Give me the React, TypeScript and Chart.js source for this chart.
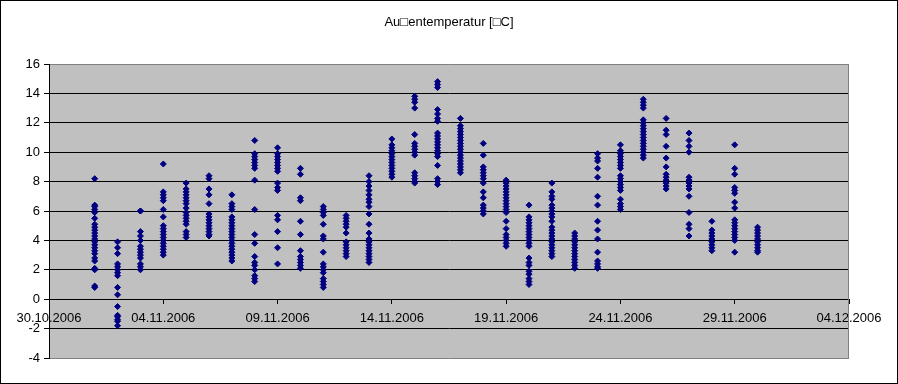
import React, { useEffect, useRef } from 'react';
import { Chart, registerables } from 'chart.js';

Chart.register(...registerables);

const chartTitle = 'Au\u25A1entemperatur [\u25A1C]';
const xTickLabels = ['30.10.2006', '04.11.2006', '09.11.2006', '14.11.2006', '19.11.2006', '24.11.2006', '29.11.2006', '04.12.2006'];
const novemberDays = [1, 2, 3, 4, 5, 6, 7, 8, 9, 10, 11, 12, 13, 14, 15, 16, 17, 18, 19, 20, 21, 22, 23, 24, 25, 26, 27, 28, 29, 30];

const nov01 = [8.2, 6.4, 6.3, 6.1, 5.9, 5.5, 5.1, 4.9, 4.7, 4.5, 4.3, 4.1, 3.9, 3.7, 3.5, 3.3, 3.1, 2.8, 2.6, 2.1, 2.0, 0.9, 0.8];
const nov02 = [3.9, 3.5, 3.1, 2.4, 2.2, 2.0, 1.8, 1.6, 0.8, 0.3, -0.5, -1.1, -1.2, -1.4, -1.5, -1.8];
const nov03 = [6.0, 6.0, 4.6, 4.3, 4.0, 3.6, 3.4, 3.2, 3.0, 2.8, 2.4, 2.2, 2.0];
const nov04 = [9.2, 7.3, 7.1, 6.9, 6.7, 6.1, 5.6, 5.0, 4.8, 4.6, 4.4, 4.2, 4.0, 3.8, 3.6, 3.4, 3.2, 3.0];
const nov05 = [7.9, 7.5, 7.3, 7.1, 6.9, 6.7, 6.5, 6.2, 5.9, 5.7, 5.5, 5.3, 5.1, 4.6, 4.4, 4.2];
const nov06 = [8.4, 8.2, 7.5, 7.1, 6.5, 5.8, 5.6, 5.4, 5.2, 5.0, 4.8, 4.6, 4.4, 4.3];
const nov07 = [7.1, 6.5, 6.3, 6.1, 5.6, 5.4, 5.2, 5.0, 4.8, 4.6, 4.4, 4.2, 4.0, 3.8, 3.6, 3.4, 3.2, 3.0, 2.8, 2.6];
const nov08 = [10.8, 9.9, 9.7, 9.5, 9.3, 9.1, 8.9, 8.1, 6.1, 4.4, 3.8, 2.9, 2.5, 2.3, 2.0, 1.6, 1.4, 1.2];
const nov09 = [10.3, 9.9, 9.7, 9.5, 9.3, 9.1, 8.9, 8.7, 7.9, 7.6, 7.4, 5.7, 5.4, 4.6, 3.5, 2.4];
const nov10 = [8.9, 8.5, 6.9, 6.7, 5.3, 4.4, 3.3, 2.9, 2.7, 2.5, 2.3, 2.1];
const nov11 = [6.3, 6.1, 5.9, 5.7, 5.1, 4.3, 4.1, 3.2, 2.4, 2.2, 2.0, 1.8, 1.4, 1.2, 1.0, 0.8];
const nov12 = [5.7, 5.5, 5.3, 5.1, 4.9, 4.5, 3.9, 3.7, 3.5, 3.3, 3.1, 2.9];
const nov13 = [8.4, 8.0, 7.7, 7.4, 7.1, 6.8, 6.6, 6.3, 5.8, 5.1, 4.5, 4.1, 3.9, 3.7, 3.5, 3.3, 3.1, 2.9, 2.7, 2.5];
const nov14 = [10.9, 10.5, 10.3, 10.1, 9.9, 9.7, 9.5, 9.3, 9.1, 8.9, 8.7, 8.5, 8.3];
const nov15 = [13.8, 13.6, 13.4, 13.0, 11.2, 10.6, 10.4, 10.2, 10.0, 9.8, 8.6, 8.4, 8.2, 8.0, 7.9];
const nov16 = [14.8, 14.6, 14.4, 12.9, 12.6, 12.3, 12.1, 11.3, 11.1, 10.9, 10.7, 10.5, 10.3, 10.1, 9.9, 9.7, 9.1, 8.2, 8.0, 7.8];
const nov17 = [12.3, 11.8, 11.6, 11.4, 11.2, 11.0, 10.8, 10.6, 10.4, 10.2, 10.0, 9.8, 9.6, 9.4, 9.2, 9.0, 8.8, 8.6];
const nov18 = [10.6, 9.8, 9.0, 8.8, 8.6, 8.4, 8.2, 7.9, 7.3, 6.9, 6.4, 6.2, 6.0, 5.8];
const nov19 = [8.1, 7.9, 7.7, 7.5, 7.3, 7.1, 6.9, 6.7, 6.5, 6.3, 6.1, 5.9, 5.3, 4.8, 4.4, 4.2, 4.0, 3.8, 3.6];
const nov20 = [6.4, 5.6, 5.4, 5.2, 5.0, 4.8, 4.6, 4.4, 4.2, 4.0, 3.8, 3.6, 2.8, 2.5, 2.3, 1.9, 1.7, 1.4, 1.2, 1.0];
const nov21 = [7.9, 7.3, 7.0, 6.8, 6.4, 6.2, 6.0, 5.8, 5.6, 5.3, 4.9, 4.7, 4.5, 4.3, 4.1, 3.9, 3.7, 3.5, 3.3, 3.1, 2.9];
const nov22 = [4.5, 4.3, 4.1, 3.9, 3.7, 3.5, 3.3, 3.1, 2.9, 2.7, 2.5, 2.3, 2.1];
const nov23 = [9.9, 9.6, 9.4, 8.9, 8.3, 7.0, 6.4, 5.3, 4.7, 4.1, 3.2, 2.6, 2.4, 2.2, 2.1];
const nov24 = [10.5, 10.1, 9.9, 9.7, 9.5, 9.3, 9.1, 8.9, 8.4, 8.2, 8.0, 7.8, 7.6, 7.4, 6.8, 6.5, 6.3, 6.1];
const nov25 = [13.6, 13.4, 13.2, 13.0, 12.2, 12.0, 11.8, 11.6, 11.4, 11.2, 11.0, 10.8, 10.6, 10.4, 10.2, 10.0, 9.8, 9.6];
const nov26 = [12.3, 11.5, 11.2, 10.4, 9.6, 9.0, 8.5, 8.3, 8.1, 7.9, 7.7, 7.5];
const nov27 = [11.3, 10.8, 10.4, 10.0, 8.3, 8.1, 7.9, 7.7, 7.5, 7.0, 5.9, 5.1, 4.8, 4.3];
const nov28 = [5.3, 4.7, 4.5, 4.3, 4.1, 3.9, 3.7, 3.5, 3.3];
const nov29 = [10.5, 8.9, 8.5, 7.6, 7.4, 7.2, 6.6, 6.2, 5.4, 5.2, 5.0, 4.8, 4.6, 4.4, 4.2, 4.0, 3.2];
const nov30 = [4.9, 4.7, 4.5, 4.3, 4.1, 3.9, 3.7, 3.5, 3.3, 3.2];

const novemberSeries = [nov01, nov02, nov03, nov04, nov05, nov06, nov07, nov08, nov09, nov10, nov11, nov12, nov13, nov14, nov15, nov16, nov17, nov18, nov19, nov20, nov21, nov22, nov23, nov24, nov25, nov26, nov27, nov28, nov29, nov30];

const FONT = 'Liberation Sans, Arial, sans-serif';
const DAY_MS = 86400000;
const startUtc = Date.UTC(2006, 9, 30);
const dayOffset = (novDay: number) => Math.round((Date.UTC(2006, 10, novDay) - startUtc) / DAY_MS);

const framePlugin = {
  id: 'excelFrame',
  beforeDraw(chart: any) {
    const { ctx, chartArea: a, width, height } = chart;
    ctx.save();
    ctx.fillStyle = '#ffffff';
    ctx.fillRect(0, 0, width, height);
    ctx.fillStyle = '#c0c0c0';
    ctx.fillRect(a.left, a.top, a.right - a.left, a.bottom - a.top);
    ctx.restore();
  },
  beforeDatasetsDraw(chart: any) {
    const { ctx, chartArea: a } = chart;
    ctx.save();
    ctx.strokeStyle = '#808080';
    ctx.lineWidth = 1;
    ctx.beginPath();
    ctx.moveTo(Math.round(a.right) - 0.5, a.top);
    ctx.lineTo(Math.round(a.right) - 0.5, a.bottom);
    ctx.stroke();
    ctx.restore();
  },
  afterDraw(chart: any) {
    const { ctx, width, height } = chart;
    ctx.save();
    ctx.strokeStyle = '#000000';
    ctx.lineWidth = 1;
    ctx.strokeRect(0.5, 0.5, width - 1, height - 1);
    ctx.fillStyle = '#000000';
    ctx.font = `13px ${FONT}`;
    ctx.textAlign = 'center';
    ctx.textBaseline = 'middle';
    ctx.fillText(chartTitle, width / 2, 22);
    ctx.restore();
  },
};

export default function App() {
  const ref = useRef<HTMLCanvasElement>(null);
  useEffect(() => {
    document.body.style.margin = '0';
    const points: { x: number; y: number }[] = [];
    novemberDays.forEach((d, i) => {
      novemberSeries[i].forEach((v) => points.push({ x: dayOffset(d), y: v }));
    });
    const tickFont = { family: FONT, size: 13 };
    const chart = new Chart(ref.current as HTMLCanvasElement, {
      type: 'scatter',
      data: {
        datasets: [
          {
            data: points,
            pointStyle: 'rectRot',
            pointRadius: 3,
            pointBackgroundColor: '#000080',
            pointBorderColor: '#000080',
            pointBorderWidth: 1,
            showLine: false,
          },
        ],
      },
      options: {
        responsive: false,
        animation: false,
        devicePixelRatio: 1,
        events: [],
        layout: { padding: { top: 64, right: 49, bottom: 26, left: 0 } },
        plugins: {
          legend: { display: false },
          title: { display: false },
          tooltip: { enabled: false },
        },
        scales: {
          x: {
            type: 'linear',
            min: 0,
            max: 35,
            position: { y: 0 } as any,
            afterFit: (s: any) => {
              s.paddingLeft = 0;
              s.paddingRight = 0;
              s.paddingTop = 0;
              s.paddingBottom = 0;
            },
            ticks: {
              stepSize: 5,
              autoSkip: false,
              maxRotation: 0,
              minRotation: 0,
              padding: 7,
              color: '#000000',
              font: tickFont,
              callback: (v: any) => xTickLabels[Math.round(Number(v) / 5)] ?? '',
            },
            grid: { drawOnChartArea: false, tickLength: 4, tickColor: '#000000', color: '#000000' },
            border: { display: true, color: '#000000', width: 1 },
          },
          y: {
            type: 'linear',
            min: -4,
            max: 16,
            afterFit: (s: any) => {
              s.width = 49;
            },
            ticks: { stepSize: 2, padding: 4, color: '#000000', font: tickFont },
            grid: {
              color: (c: any) => (c.tick && (c.tick.value === 16 || c.tick.value === -4) ? '#808080' : '#000000'),
              tickLength: 5,
              tickColor: '#000000',
            },
            border: { display: true, color: '#000000', width: 1 },
          },
        },
      },
      plugins: [framePlugin],
    });
    return () => chart.destroy();
  }, []);
  return <canvas ref={ref} width={898} height={384} style={{ display: 'block' }} />;
}
